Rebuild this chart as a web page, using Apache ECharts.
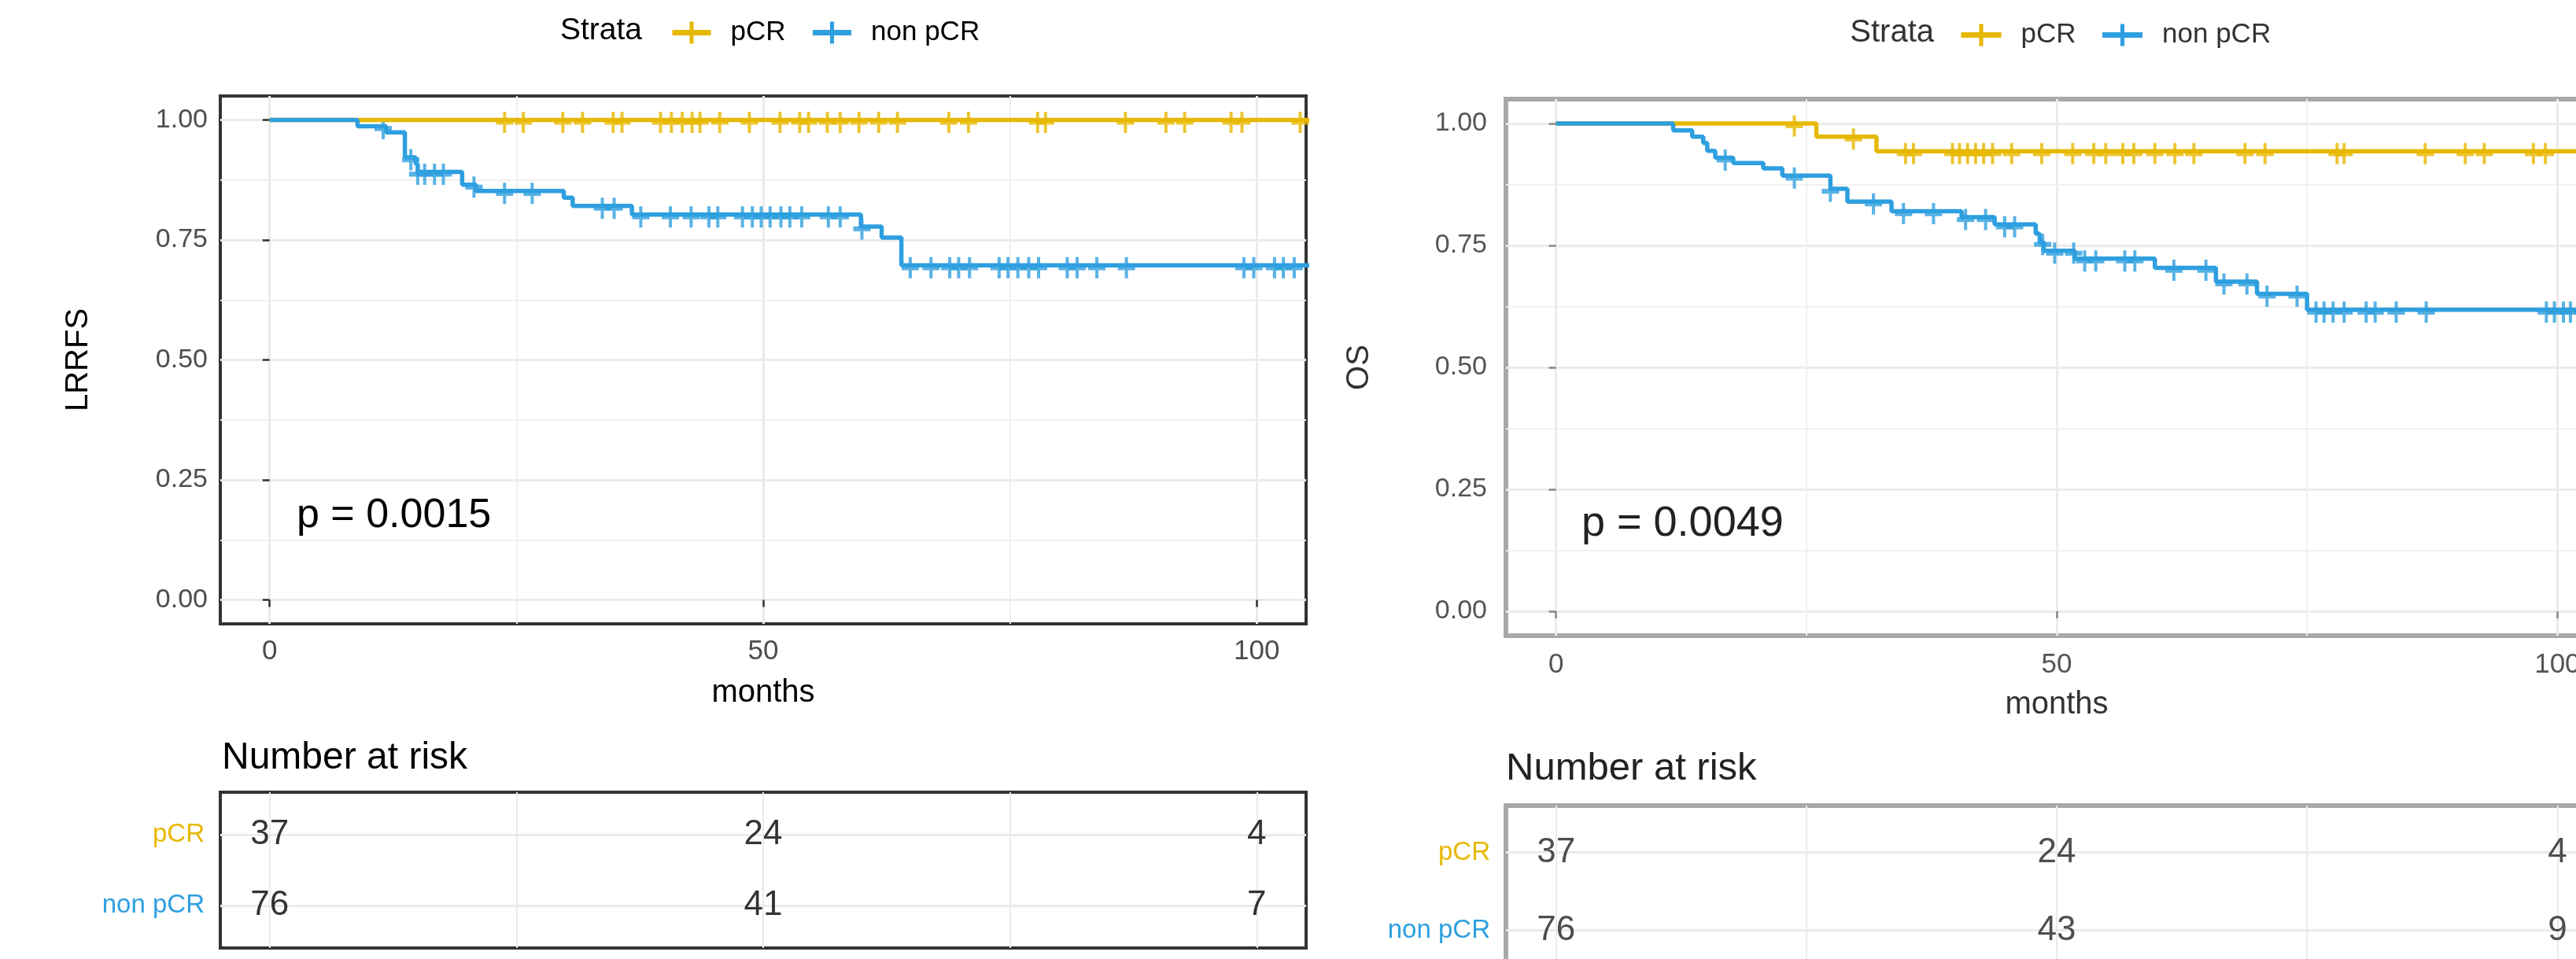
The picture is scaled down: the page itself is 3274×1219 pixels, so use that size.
<!DOCTYPE html>
<html>
<head>
<meta charset="utf-8">
<script src="https://cdn.jsdelivr.net/npm/echarts@6/dist/echarts.min.js"></script>
<style>
  html, body { margin: 0; padding: 0; background: #fff; }
  #chart { width: 3274px; height: 1219px; }
</style>
</head>
<body>
<div id="chart"></div>
<script>
  const FONT = '"Liberation Sans", Arial, sans-serif'
  const YELLOW = '#E7B800'
  const BLUE = '#2E9FDF'
  const CROSS = 'path://M9,0h4v26h-4z M0,10h22v6h-22z'

  const strata = ['pCR', 'non pCR']
  const riskTimes = [0, 50, 100]

  // LRRFS (left) - pCR has no event
  const lrrfsPcrEventT = []
  const lrrfsPcrEventS = []
  const lrrfsPcrCensor = [23.8, 25.7, 29.7, 31.7, 34.8, 35.7, 39.6, 40.7, 41.8, 42.8, 43.6, 45.6, 48.6, 51.7, 53.7,
    54.6, 56.5, 57.8, 59.7, 61.7, 63.6, 68.8, 70.8, 77.8, 78.6, 86.7, 90.8, 92.7, 97.4, 98.5, 104.4]
  const lrrfsNonEventT = [8.9, 11.8, 13.7, 14.8, 15.0, 19.5, 20.9, 29.8, 30.7, 36.7, 59.9, 62.0, 64.0]
  const lrrfsNonEventS = [0.987, 0.974, 0.922, 0.908, 0.892, 0.865, 0.852, 0.838, 0.821, 0.803, 0.778, 0.755, 0.697]
  const lrrfsNonCensor = [11.5, 14.3, 15.0, 15.7, 16.7, 17.6, 20.7, 23.8, 26.6, 33.7, 34.9, 37.6, 40.6, 42.7, 44.5,
    45.4, 47.9, 48.9, 49.8, 50.7, 51.8, 52.7, 53.9, 56.6, 57.8, 60.0, 64.9, 67.0, 68.9, 69.8, 70.9, 73.9, 74.8, 75.8,
    76.9, 77.9, 80.8, 81.8, 83.8, 86.8, 98.7, 99.7, 101.8, 102.7, 103.8]
  const lrrfsRiskPcr = [37, 24, 4]
  const lrrfsRiskNon = [76, 41, 7]

  // OS (right)
  const osPcrEventT = [26.0, 32.0]
  const osPcrEventS = [0.973, 0.943]
  const osPcrCensor = [23.8, 29.7, 34.9, 35.7, 39.6, 40.3, 41.1, 41.9, 42.7, 43.6, 45.5, 48.5, 51.6, 53.7, 54.9,
    56.6, 57.7, 59.8, 61.8, 63.7, 68.8, 70.8, 78.0, 78.7, 86.8, 90.8, 92.7, 97.6, 98.8]
  const osNonEventT = [11.7, 13.6, 14.7, 15.1, 15.9, 17.7, 20.7, 22.6, 27.4, 29.1, 33.5, 40.5, 43.8, 47.9, 48.3,
    48.7, 51.8, 59.8, 65.9, 70.0, 75.0]
  const osNonEventS = [0.986, 0.973, 0.960, 0.944, 0.930, 0.919, 0.908, 0.893, 0.866, 0.840, 0.820, 0.808, 0.793,
    0.774, 0.757, 0.739, 0.723, 0.704, 0.676, 0.651, 0.618]
  const osNonCensor = [16.9, 23.8, 27.4, 31.7, 34.7, 37.7, 40.9, 42.9, 44.8, 45.8, 48.6, 49.8, 51.7, 52.8, 53.9,
    56.8, 57.8, 61.7, 64.9, 66.7, 69.0, 71.0, 74.0, 75.9, 76.7, 77.6, 78.7, 80.9, 81.8, 83.9, 86.9, 98.9, 99.7,
    100.6, 101.3, 102.5, 103.5]
  const osRiskPcr = [37, 24, 4]
  const osRiskNon = [76, 43, 9]

  const followUpEnd = 106

  function curve(ts, ss) {
    let pts = [[0, 1]]
    ts.forEach((t, i) => pts.push([t, ss[i]]))
    pts.push([followUpEnd, ss.length ? ss[ss.length - 1] : 1])
    return pts
  }
  function survAt(ts, ss, t) {
    let s = 1
    ts.forEach((e, i) => { if (e <= t) s = ss[i] })
    return s
  }
  function kmSeries(name, color, ts, ss, cs, axis, lw) {
    return [
      {
        type: 'line', name: name, xAxisIndex: axis, yAxisIndex: axis, step: 'end',
        data: curve(ts, ss), symbol: CROSS, showSymbol: false, clip: true,
        lineStyle: { color: color, width: lw }, itemStyle: { color: color }
      },
      {
        type: 'scatter', name: name, xAxisIndex: axis, yAxisIndex: axis,
        data: cs.map(c => [c, survAt(ts, ss, c)]),
        symbol: CROSS, symbolSize: [22, 27], symbolOffset: [0, 3], itemStyle: { color: color }
      }
    ]
  }
  function riskSeries(values, row, axis, color) {
    return {
      type: 'scatter', xAxisIndex: axis, yAxisIndex: axis, symbolSize: 1,
      itemStyle: { color: 'rgba(0,0,0,0)' },
      data: riskTimes.map((t, i) => [t, row, values[i]]),
      label: {
        show: true, position: 'inside', formatter: p => p.value[2],
        fontSize: 44, fontFamily: FONT, color: color
      }
    }
  }

  function kmAxes(gridIndex, cfg) {
    let xs = [
      {
        type: 'value', gridIndex: gridIndex, min: -5, max: 105,
        name: 'months', nameLocation: 'middle', nameGap: cfg.xNameGap,
        nameTextStyle: { fontSize: 40, fontFamily: FONT, color: cfg.text },
        axisLine: { show: false },
        axisTick: { show: true, length: 9, customValues: [0, 50, 100], lineStyle: { color: cfg.tick, width: 2.5 } },
        axisLabel: { customValues: [0, 50, 100], margin: cfg.xLabelMargin, fontSize: 35, fontFamily: FONT, color: cfg.label },
        splitLine: { show: true, lineStyle: { color: '#ebebeb', width: 3 } }
      },
      {
        type: 'value', gridIndex: gridIndex, min: -5, max: 105,
        axisLine: { show: false },
        axisTick: { show: false, customValues: [25, 75] },
        axisLabel: { show: false },
        splitLine: { show: true, lineStyle: { color: '#f0f0f0', width: 2 } }
      }
    ]
    let ys = [
      {
        type: 'value', gridIndex: gridIndex, min: -0.05, max: 1.05,
        name: cfg.yName, nameLocation: 'middle', nameGap: cfg.yNameGap, nameRotate: 90,
        nameTextStyle: { fontSize: 40, fontFamily: FONT, color: cfg.text },
        axisLine: { show: false },
        axisTick: { show: true, length: 9, customValues: [0, 0.25, 0.5, 0.75, 1], lineStyle: { color: cfg.tick, width: 2.5 } },
        axisLabel: {
          customValues: [0, 0.25, 0.5, 0.75, 1], margin: cfg.yLabelMargin, formatter: v => v.toFixed(2),
          fontSize: 34, fontFamily: FONT, color: cfg.label
        },
        splitLine: { show: true, lineStyle: { color: '#ebebeb', width: 3 } }
      },
      {
        type: 'value', gridIndex: gridIndex, min: -0.05, max: 1.05,
        axisLine: { show: false },
        axisTick: { show: false, customValues: [0.125, 0.375, 0.625, 0.875] },
        axisLabel: { show: false },
        splitLine: { show: true, lineStyle: { color: '#f0f0f0', width: 2 } }
      }
    ]
    return { xs, ys }
  }
  function riskAxes(gridIndex) {
    return {
      x: {
        type: 'value', gridIndex: gridIndex, min: -5, max: 105,
        axisLine: { show: false },
        axisTick: { show: false, customValues: [0, 25, 50, 75, 100] },
        axisLabel: { show: false },
        splitLine: { show: true, lineStyle: { color: '#ebebeb', width: 2 } }
      },
      y: {
        type: 'value', gridIndex: gridIndex, min: 0.4, max: 2.6,
        axisLine: { show: false },
        axisTick: { show: false, customValues: [1, 2] },
        axisLabel: {
          customValues: [1, 2], margin: 20,
          formatter: v => v === 2 ? '{p|' + strata[0] + '}' : '{n|' + strata[1] + '}',
          rich: {
            p: { color: YELLOW, fontSize: 33, fontFamily: FONT },
            n: { color: BLUE, fontSize: 33, fontFamily: FONT }
          }
        },
        splitLine: { show: true, lineStyle: { color: '#ebebeb', width: 3 } }
      }
    }
  }

  let left = kmAxes(0, { yName: 'LRRFS', yNameGap: 160, xNameGap: 68, xLabelMargin: 18, yLabelMargin: 16, text: '#000', label: '#4d4d4d', tick: '#333' })
  let leftRisk = riskAxes(1)
  let right = kmAxes(2, { yName: 'OS', yNameGap: 166, xNameGap: 68, xLabelMargin: 20, yLabelMargin: 24, text: '#333', label: '#555', tick: '#888' })
  let rightRisk = riskAxes(3)

  let legendBase = {
    data: strata, itemWidth: 49, itemHeight: 35,
    lineStyle: { width: 7 },
    textStyle: { fontSize: 35, fontFamily: FONT, color: '#000', padding: [0, 0, 0, 20] }
  }
  let gridBase = { show: true, backgroundColor: '#fff', outerBoundsMode: 'none', containLabel: false }

  let chart = echarts.init(document.getElementById('chart'))
  chart.setOption({
    animation: false,
    backgroundColor: '#fff',
    grid: [
      { ...gridBase, left: 280, top: 122, width: 1380, height: 671, borderColor: '#333', borderWidth: 4 },
      { ...gridBase, left: 280, top: 1007, width: 1380, height: 198, borderColor: '#333', borderWidth: 4 },
      { ...gridBase, left: 1914, top: 126, width: 1400, height: 682, borderColor: '#a8a8a8', borderWidth: 6 },
      { ...gridBase, left: 1914, top: 1024, width: 1400, height: 218, borderColor: '#a8a8a8', borderWidth: 6 }
    ],
    xAxis: [left.xs[0], left.xs[1], leftRisk.x, right.xs[0], right.xs[1], rightRisk.x],
    yAxis: [left.ys[0], left.ys[1], leftRisk.y, right.ys[0], right.ys[1], rightRisk.y],
    legend: [
      { ...legendBase, left: 846, top: 19, itemGap: 31 },
      { ...legendBase, left: 2484, top: 22, itemGap: 30, itemWidth: 51, textStyle: { ...legendBase.textStyle, color: '#333' } }
    ],
    graphic: [
      { type: 'text', x: 816, y: 39, style: { text: 'Strata', align: 'right', verticalAlign: 'middle', fontSize: 39, fontFamily: FONT, fill: '#000' } },
      { type: 'text', x: 2458, y: 42, style: { text: 'Strata', align: 'right', verticalAlign: 'middle', fontSize: 40, fontFamily: FONT, fill: '#333' } },
      { type: 'text', x: 377, y: 656, style: { text: 'p = 0.0015', align: 'left', verticalAlign: 'middle', fontSize: 52, fontFamily: FONT, fill: '#000' } },
      { type: 'text', x: 2010, y: 666, style: { text: 'p = 0.0049', align: 'left', verticalAlign: 'middle', fontSize: 54, fontFamily: FONT, fill: '#222' } },
      { type: 'text', x: 282, y: 964, style: { text: 'Number at risk', align: 'left', verticalAlign: 'middle', fontSize: 48, fontFamily: FONT, fill: '#000' } },
      { type: 'text', x: 1914, y: 977, style: { text: 'Number at risk', align: 'left', verticalAlign: 'middle', fontSize: 49, fontFamily: FONT, fill: '#222' } }
    ],
    series: [
      ...kmSeries(strata[0], YELLOW, lrrfsPcrEventT, lrrfsPcrEventS, lrrfsPcrCensor, 0, 5.5),
      ...kmSeries(strata[1], BLUE, lrrfsNonEventT, lrrfsNonEventS, lrrfsNonCensor, 0, 5.5),
      ...kmSeries(strata[0], YELLOW, osPcrEventT, osPcrEventS, osPcrCensor, 3, 5.5),
      ...kmSeries(strata[1], BLUE, osNonEventT, osNonEventS, osNonCensor, 3, 5.5),
      riskSeries(lrrfsRiskPcr, 2, 2, '#000'),
      riskSeries(lrrfsRiskNon, 1, 2, '#000'),
      riskSeries(osRiskPcr, 2, 5, '#222'),
      riskSeries(osRiskNon, 1, 5, '#222')
    ]
  })
</script>
</body>
</html>
